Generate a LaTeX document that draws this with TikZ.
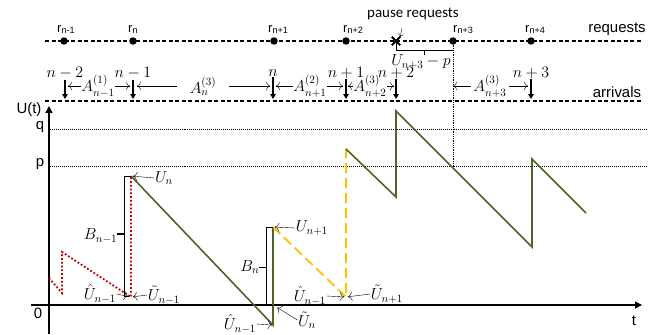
\documentclass[tikz,border=0pt]{standalone}
\usepackage{fix-cm}
\usepackage{amsmath}
\usepackage{fontspec}
\newfontfamily\arialfont{Liberation Sans}
\newfontfamily\calibrifont{Carlito}
\usetikzlibrary{arrows.meta,shapes.misc}
\definecolor{saggreen}{RGB}{79,98,40}
\definecolor{sagred}{RGB}{192,0,0}
\definecolor{sagyellow}{RGB}{255,192,0}

\begin{document}
\begin{tikzpicture}[x=1bp,y=-1bp,>={To[length=1.5mm]},
  mathlbl/.style={inner sep=0.5pt,font=\fontsize{16}{18}\selectfont},
  sanslbl/.style={inner sep=0pt,font=\arialfont\fontsize{15}{17}\selectfont},
  rlbl/.style={inner sep=0pt,font=\arialfont\fontsize{13}{15}\selectfont},
  reqdot/.style={circle,fill,inner sep=0pt,minimum size=7.5pt},
  timeline/.style={dash pattern=on 4bp off 2.5bp,line width=1.1pt},
  level/.style={densely dotted,line width=1pt},
  arrival/.style={line width=1.4pt,-{Triangle[length=5bp,width=5.5bp]}},
  axis/.style={line width=1.4pt,-{Triangle[length=7bp,width=7bp]}},
  bracket/.style={line width=0.7pt},
  greenline/.style={saggreen,line width=1.6pt},
  redline/.style={sagred,dotted,line width=1.8pt},
  yellowline/.style={sagyellow,dash pattern=on 10bp off 5bp,line width=1.8pt}]
  \useasboundingbox (0,0) rectangle (667,334);

  % timelines
  \draw[timeline] (45,41) -- (643,41);
  \draw[timeline] (45,101) -- (643,101);
  \node[sanslbl] (reqtxt) at (617,29) {requests};
  \node[sanslbl] (arrtxt) at (617,92) {arrivals};

  % request instants
  \foreach \x/\sub/\nm/\off in {64/n-1/1/-7, 133/n/2/-5, 274/n+1/3/-6, 346/n+2/4/-3, 453/n+3/5/0, 531/n+4/6/-6} {
    \node[reqdot] (r\nm) at (\x,41) {};
    \node[rlbl,anchor=base west] (rl\nm) at (\x+\off,32) {r\textsubscript{\sub}};
  }

  % pause request
  \node[draw,cross out,line width=2pt,minimum size=6.5pt,inner sep=0pt] (px) at (396,41) {};
  \node[inner sep=0pt,font=\calibrifont\fontsize{15}{17}\selectfont] (pr) at (413,14) {pause requests};
  \draw[-{To[length=1mm]}] ([shift={(-11pt,-8pt)}]pr.south) -- (px.north east);
  \draw[bracket] (px.center) |- (453,50);
  \draw[bracket] (424,50) -- (424,55);
  \node[mathlbl] (ub) at (421,62) {$U_{n+3}-p$};

  % arrival instants
  \foreach \x/\lbl/\nm in {65/n-2/1, 133/n-1/2, 273/n/3, 346/n+1/4, 396/n+2/5, 531/n+3/6} {
    \coordinate (ar\nm) at (\x,99);
    \node[mathlbl] (ln\nm) at (\x,73) {$\lbl$};
    \draw[arrival] (ln\nm.south -| ar\nm) -- (ar\nm);
  }

  % inter-arrival times
  \node[mathlbl] (A1) at (98,86) {$A^{(1)}_{n-1}$};
  \draw[->,shorten >=3pt] (A1.west) -- (A1.west -| ar1);
  \draw[->,shorten >=3pt] (A1.east) -- (A1.east -| ar2);
  \node[mathlbl,inner xsep=13pt] (A2) at (203,86) {$A^{(3)}_{n}$};
  \draw[->,shorten >=4pt] (A2.west) -- (A2.west -| ar2);
  \draw[->,shorten >=3pt] (A2.east) -- (A2.east -| ar3);
  \node[mathlbl] (A3) at (310,86) {$A^{(2)}_{n+1}$};
  \draw[->,shorten >=3pt] (A3.west) -- (A3.west -| ar3);
  \draw[->,shorten >=3pt] (A3.east) -- (A3.east -| ar4);
  \node[mathlbl] (A4) at (370,86) {$A^{(3)}_{n+2}$};
  \draw[->,shorten >=2pt] (A4.west) -- (A4.west -| ar4);
  \draw[->,shorten >=2pt] (A4.east) -- (A4.east -| ar5);
  \node[mathlbl,inner xsep=2pt] (A5) at (490,86) {$A^{(3)}_{n+3}$};
  \draw[->] (A5.west) -- (A5.west -| r5);
  \draw[->,shorten >=3pt] (A5.east) -- (A5.east -| ar6);

  % axes and levels
  \draw[axis] (31,305) -- (642,305);
  \draw[axis] (49,334) -- (49,106);
  \node[sanslbl] (ulbl) at (29,110) {U(t)};
  \node[sanslbl] (tlbl) at (634,321) {t};
  \node[sanslbl] (zlbl) at (38,313) {0};
  \node[sanslbl] (qlbl) at (40,127) {q};
  \node[sanslbl] (plbl) at (40,164) {p};
  \draw[level] (50,129) -- (647,129);
  \draw[level] (50,166) -- (647,166);
  \coordinate (pcross) at (453,166);
  \draw[densely dotted,line width=0.8pt] (r5.center) -- (pcross);

  % workload curve
  \coordinate (red0) at (49,278);
  \coordinate (red1) at (62,293);
  \coordinate (red2) at (62,252);
  \coordinate (red3) at (131,297);
  \coordinate (g1) at (131,176);
  \coordinate (g2) at (273,325);
  \coordinate (g0) at (273,305);
  \coordinate (g3) at (273,227);
  \coordinate (y1) at (346,297);
  \coordinate (y2) at (346,149);
  \coordinate (g4) at (396,197);
  \coordinate (g5) at (396,111);
  \coordinate (g6) at (532,247);
  \coordinate (g7) at (532,159);
  \coordinate (g8) at (586,213);
  \draw[redline] (red0) -- (red1) -- (red2) -- (red3) -- (g1);
  \draw[greenline] (g1) -- (g2) -- (g3);
  \draw[yellowline] (g3) -- (y1) -- (y2);
  \draw[greenline] (y2) -- (g4) -- (g5) -- (g6) -- (g7) -- (g8);

  % service brackets
  \draw[bracket] (g1) -- (124,176) -- (124,296) -- (129,296);
  \draw[line width=1.4pt] (124,234) -- (117,234);
  \node[mathlbl,anchor=east] (bn1) at (118,236) {$B_{n-1}$};
  \draw[bracket] (g3) -- (266,227) -- (266,305) -- (g0);
  \draw[bracket] (266,267) -- (259,267);
  \node[mathlbl,anchor=east] (bn) at (260,267) {$B_{n}$};

  % value labels
  \node[mathlbl] (un) at (164,178) {$U_{n}$};
  \draw[->,shorten >=2pt] (un.west) -- (g1);
  \node[mathlbl] (un1) at (312,228) {$U_{n+1}$};
  \draw[->,shorten >=2pt] (un1.west) -- (g3);
  \node[mathlbl] (uh1) at (100,294) {$\hat{U}_{n-1}$};
  \draw[->,shorten >=3pt] (uh1.east) -- (red3);
  \node[mathlbl] (ut1) at (164,295) {$\tilde{U}_{n-1}$};
  \draw[->,shorten >=2pt] (ut1.west) -- (red3);
  \node[mathlbl] (uh2) at (240,324) {$\hat{U}_{n-1}$};
  \draw[->,shorten >=1pt] (uh2.east) -- (g2);
  \node[mathlbl] (ut2) at (307,320) {$\tilde{U}_{n}$};
  \draw[->,shorten >=5pt] (ut2.west) -- (g0);
  \node[mathlbl] (uh3) at (310,296) {$\hat{U}_{n-1}$};
  \draw[->,shorten >=2pt] (uh3.east) -- (y1);
  \node[mathlbl] (ut3) at (387,294) {$\tilde{U}_{n+1}$};
  \draw[->,shorten >=2pt] (ut3.west) -- (y1);
\end{tikzpicture}
\end{document}
